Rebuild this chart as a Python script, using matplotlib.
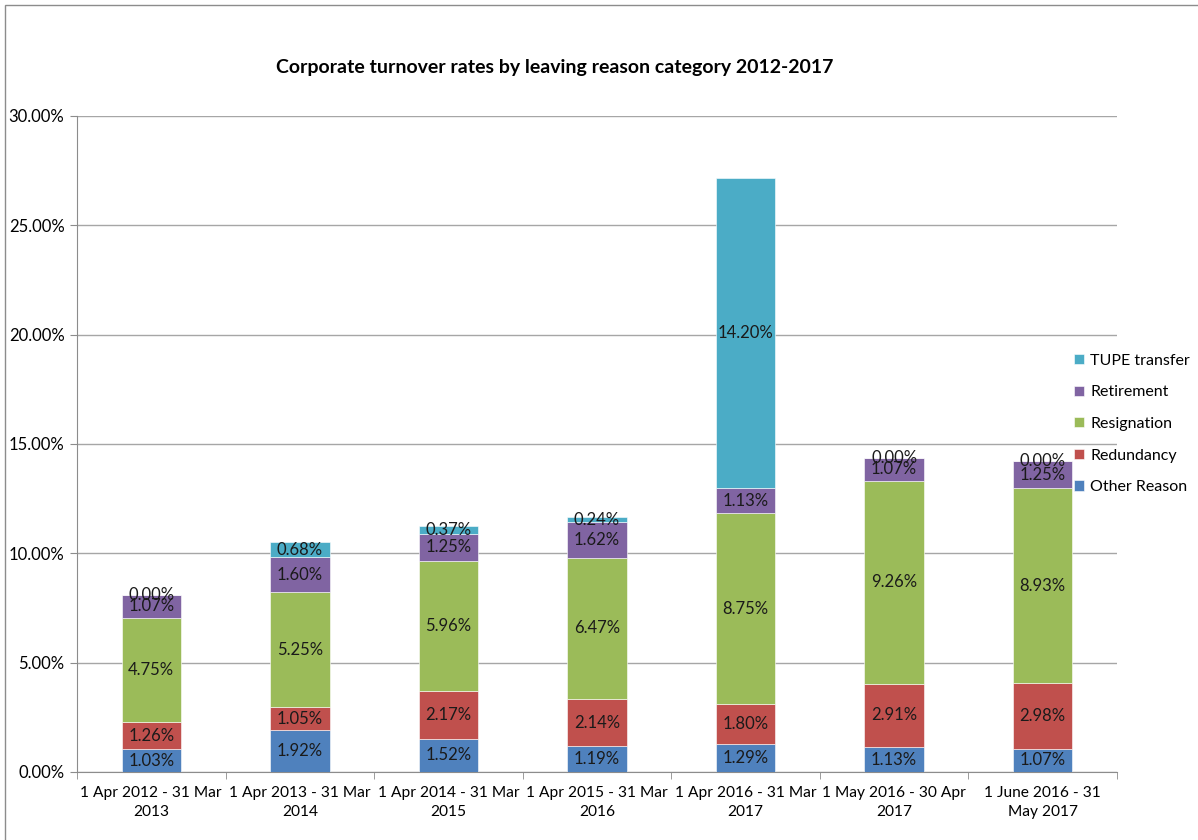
import matplotlib
matplotlib.use("Agg")
import matplotlib.pyplot as plt
from matplotlib.patches import Rectangle
import numpy as np

plt.rcParams['font.family'] = ['Lato', 'DejaVu Sans']

periods = [
    "1 Apr 2012 - 31 Mar\n2013",
    "1 Apr 2013 - 31 Mar\n2014",
    "1 Apr 2014 - 31 Mar\n2015",
    "1 Apr 2015 - 31 Mar\n2016",
    "1 Apr 2016 - 31 Mar\n2017",
    "1 May 2016 - 30 Apr\n2017",
    "1 June 2016 - 31\nMay 2017",
]

other_reason = [1.03, 1.92, 1.52, 1.19, 1.29, 1.13, 1.07]
redundancy   = [1.26, 1.05, 2.17, 2.14, 1.80, 2.91, 2.98]
resignation  = [4.75, 5.25, 5.96, 6.47, 8.75, 9.26, 8.93]
retirement   = [1.07, 1.60, 1.25, 1.62, 1.13, 1.07, 1.25]
tupe         = [0.00, 0.68, 0.37, 0.24, 14.20, 0.00, 0.00]

series = [
    ("Other Reason", other_reason, "#4F81BD"),
    ("Redundancy", redundancy, "#C0504D"),
    ("Resignation", resignation, "#9BBB59"),
    ("Retirement", retirement, "#8064A2"),
    ("TUPE transfer", tupe, "#4BACC6"),
]

fig = plt.figure(figsize=(11.98, 8.4), dpi=100)
ax = fig.add_axes([77/1198, 1 - 772/840, (1117 - 77)/1198, (772 - 116)/840])

x = np.arange(len(periods))
bottom = np.zeros(len(periods))
handles = []
for name, vals, color in series:
    vals = np.array(vals)
    bars = ax.bar(x, vals, width=0.4, bottom=bottom, color=color,
                  edgecolor='white', linewidth=0.4, label=name, zorder=3)
    handles.append(bars)
    for xi, b, v in zip(x, bottom, vals):
        ax.text(xi, b + v / 2, f"{v:.2f}%", ha='center', va='center',
                fontsize=12, color='#1a1a1a', zorder=4)
    bottom += vals

ax.set_xlim(-0.5, len(periods) - 0.5)
ax.set_ylim(0, 30)
ax.set_yticks(np.arange(0, 31, 5))
ax.set_yticklabels([f"{v:.2f}%" for v in np.arange(0, 31, 5)])
ax.set_xticks(x)
ax.set_xticklabels(periods, linespacing=1.5)
ax.set_xticks(np.arange(-0.5, len(periods)), minor=True)
ax.tick_params(axis='x', which='major', length=0, pad=10, labelsize=11.2)
ax.tick_params(axis='x', which='minor', length=5, color='#8c8c8c')
ax.tick_params(axis='y', length=5, color='#8c8c8c', labelsize=12, pad=4)

ax.yaxis.grid(True, color='#a6a6a6', linewidth=1, zorder=0)
ax.set_axisbelow(True)
for s in ['top', 'right']:
    ax.spines[s].set_visible(False)
for s in ['left', 'bottom']:
    ax.spines[s].set_color('#8c8c8c')

fig.text(555/1198, 1 - 67/840,
         "Corporate turnover rates by leaving reason category 2012-2017",
         ha='center', va='center', fontsize=14, fontweight='bold')

leg = fig.legend(handles=handles[::-1], labels=[s[0] for s in series][::-1],
                 loc='center left', bbox_to_anchor=(1060/1198, 1 - 424/840),
                 frameon=False, fontsize=11.5, handlelength=0.6, handleheight=0.6,
                 handletextpad=0.4, labelspacing=1.1)

fig.patches.append(Rectangle((5/1198, -0.05), 1.2, 1 - 5/840 + 0.05,
                             transform=fig.transFigure, fill=False,
                             edgecolor='#8c8c8c', linewidth=1))

fig.savefig("out.png", dpi=100)
